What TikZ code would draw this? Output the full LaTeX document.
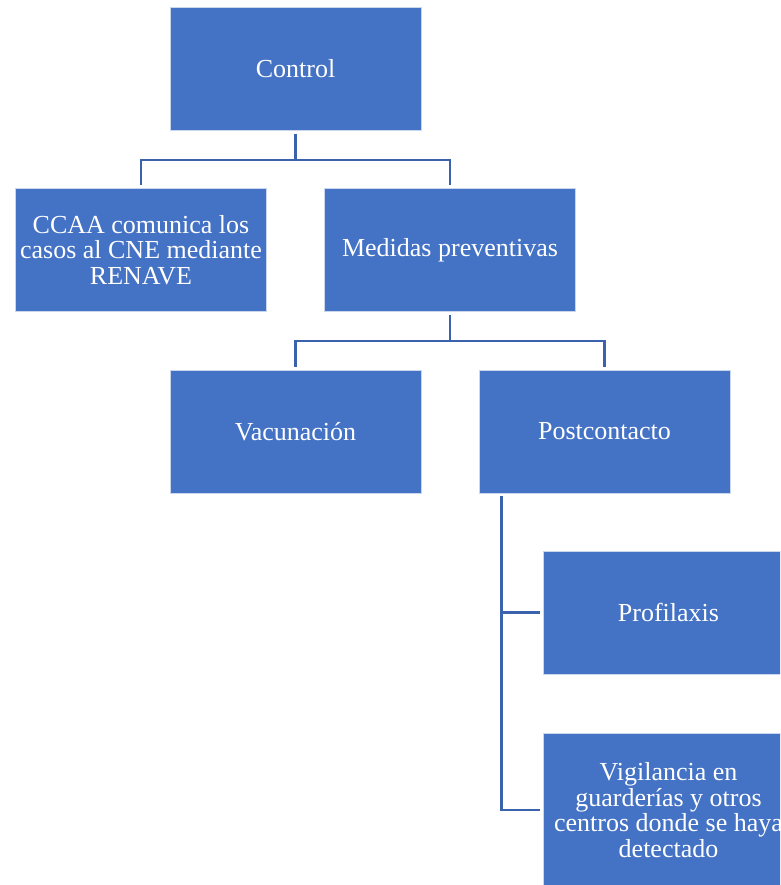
\documentclass[tikz,border=0pt]{standalone}
\usepackage{fontspec}
\setmainfont{Liberation Serif}
\definecolor{boxblue}{HTML}{4472C4}
\definecolor{boxedge}{HTML}{C9D6EE}
\definecolor{linkblue}{HTML}{3A62AD}
\begin{document}
\begin{tikzpicture}[x=1pt,y=-1pt,
  orgbox/.style={rectangle,fill=boxblue,draw=boxedge,line width=0.8pt,
    minimum width=251pt,minimum height=123pt,inner sep=0pt,align=center,
    text=white,font=\fontsize{26}{25.5}\selectfont},
  conn/.style={draw=linkblue,line width=2.6pt,line join=miter}]
\useasboundingbox (0,0) rectangle (780,885);
\clip (0,0) rectangle (780,885);
\fill[white] (0,0) rectangle (780,885);

% boxes of the hierarchy
\node[orgbox] (control) at (295.5,69) {Control};
\node[orgbox] (ccaa) at (141,250) {CCAA comunica los\\casos al CNE mediante\\RENAVE};
\node[orgbox] (medidas) at (450,250) {Medidas preventivas};
\node[orgbox] (vacuna) at (295.5,431.5) {Vacunaci\'on};
\node[orgbox] (postc) at (604.5,431.5) {Postcontacto};
\node[orgbox] (profil) at (668.5,612.5) {Profilaxis};
\node[orgbox,minimum height=154pt] (vigil) at (668.5,810) {Vigilancia en\\guarder\'ias y otros\\centros donde se haya\\detectado};

% elbow connectors
\draw[conn] ([yshift=-3pt]control.south) -- ++(0,26) coordinate (j1);
\draw[conn] ([yshift=3pt]ccaa.north) |- (j1) -| ([yshift=3pt]medidas.north);
\draw[conn] ([yshift=-3pt]medidas.south) -- ++(0,26) coordinate (j2);
\draw[conn] ([yshift=3pt]vacuna.north) |- (j2) -| ([yshift=3pt]postc.north);
\coordinate (j3) at ([xshift=23pt,yshift=-3pt]postc.south west);
\draw[conn] (j3) |- ([xshift=-3pt]vigil.west);
\draw[conn] (j3 |- profil.west) -- ([xshift=-3pt]profil.west);
\end{tikzpicture}
\end{document}
